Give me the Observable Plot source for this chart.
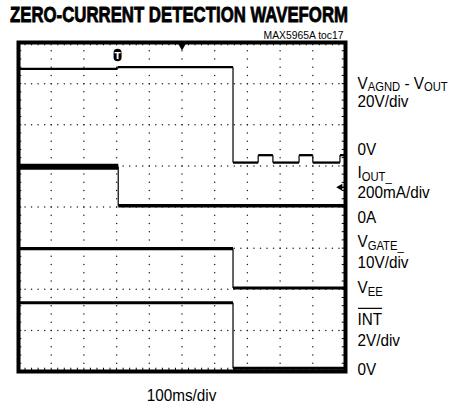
<!DOCTYPE html>
<html><head><meta charset="utf-8">
<script src="https://cdn.jsdelivr.net/npm/d3@7"></script>
<script src="https://cdn.jsdelivr.net/npm/@observablehq/plot@0.6"></script>
<style>
html,body{margin:0;padding:0;background:#fff;}
#chart{position:relative;width:449px;height:407px;}
</style></head><body><div id="chart"></div>
<script>
// Time in screen divisions (100ms/div); levels in screen divisions (+4 = top, -4 = bottom)
const vaTime   = [0, 3.03, 3.03, 6.56, 6.56, 7.33, 7.33, 7.78, 7.78, 8.58, 8.58, 9.0, 9.0, 9.83, 9.83, 10];
const vaLevel  = [3.36, 3.36, 3.4, 3.4, 1.08, 1.08, 1.26, 1.26, 1.08, 1.08, 1.26, 1.26, 1.08, 1.08, 1.26, 1.26];
const ioutTime  = [0, 3.05, 3.05, 10];
const ioutLevel = [0.98, 0.98, 0.03, 0.03];
const gateTime  = [0, 6.56, 6.56, 10];
const gateLevel = [-1.01, -1.01, -1.97, -1.97];
const intTime   = [0, 6.56, 6.56, 10];
const intLevel  = [-2.33, -2.33, -3.92, -3.92];

// Markers
const triggerTime = [3.03];
const centerTime = [5];
const triggerLevel = [0.48];

// Right-hand labels: parts [text, isSub], baseline level in divisions
const labelParts = [
  [["V",0],["AGND",1],[" - V",0],["OUT",1]],
  [["20V/div",0]],
  [["0V",0]],
  [["I",0],["OUT_",1]],
  [["200mA/div",0]],
  [["0A",0]],
  [["V",0],["GATE_",1]],
  [["10V/div",0]],
  [["V",0],["EE",1]],
  [["INT",0]],
  [["2V/div",0]],
  [["0V",0]]
];
const labelLevel = [2.86, 2.42, 1.25, 0.69, 0.2, -0.4, -0.99, -1.5, -2.11, -2.89, -3.4, -4.1];
const overlined = [false,false,false,false,false,false,false,false,false,true,false,false];

const titleText = "ZERO-CURRENT DETECTION WAVEFORM";
const tocText = "MAX5965A toc17";
const timebaseText = "100ms/div";

// Build traces
const traces = [
  {name:"va", t:vaTime, v:vaLevel},
  {name:"iout", t:ioutTime, v:ioutLevel},
  {name:"gate", t:gateTime, v:gateLevel},
  {name:"int", t:intTime, v:intLevel}
];
const thick = {va:2.3, iout:3.4, gate:3.2, int:3.0};
const hSegs = [], vSegs = [];
for (const tr of traces) {
  for (let i = 1; i < tr.t.length; i++) {
    const s = {name:tr.name, idx:i, x1:tr.t[i-1], x2:tr.t[i], y1:tr.v[i-1], y2:tr.v[i]};
    if (s.y1 === s.y2) hSegs.push(s); else vSegs.push(s);
  }
}

// Graticule
const minorX = d3.range(0, 10.0001, 0.2).map(d => +d.toFixed(2));
const minorY = d3.range(-4, 4.0001, 0.2).map(d => +d.toFixed(2));
const innerX = d3.range(1, 10);
const innerY = d3.range(-3, 4);
const gridDots = [
  ...innerY.flatMap(y => minorX.map(x => ({x, y}))),
  ...innerX.flatMap(x => minorY.map(y => ({x, y})))
];

const plot = Plot.plot({
  width: 449, height: 407,
  marginLeft: 18, marginRight: 104, marginTop: 42, marginBottom: 36,
  x: {domain: [0, 10], axis: null},
  y: {domain: [-4, 4], axis: null},
  style: {background: "#fff"},
  marks: [
    Plot.dot(gridDots, {x: "x", y: "y", r: 0.75, fill: "#222", stroke: "none"}),
    Plot.ruleX(minorX, {x: d => d, y1: 4, y2: 3.92, stroke: "#000", strokeWidth: 1}),
    Plot.ruleX(minorX, {x: d => d, y1: -4, y2: -3.92, stroke: "#000", strokeWidth: 1}),
    Plot.ruleY(minorY, {y: d => d, x1: 0, x2: 0.1, stroke: "#000", strokeWidth: 1}),
    Plot.ruleY(minorY, {y: d => d, x1: 10, x2: 9.9, stroke: "#000", strokeWidth: 1}),
    Plot.link(vSegs, {x1: "x1", x2: "x2", y1: "y1", y2: "y2", stroke: "#111", strokeWidth: 1.3}),
    Plot.link(hSegs, {x1: "x1", x2: "x2", y1: "y1", y2: "y2", stroke: "#000", strokeWidth: d => thick[d.name]}),
    Plot.link(hSegs.filter(d => d.name === "iout" && d.idx === 1), {x1: "x1", x2: "x2", y1: "y1", y2: "y2", stroke: "#000", strokeWidth: 6}),
    Plot.frame({stroke: "#000", strokeWidth: 4}),
    Plot.ruleX(triggerTime, {x: d => d, y1: 3.63, y2: 3.74, stroke: "#000", strokeWidth: 8, strokeLinecap: "round"}),
    Plot.text(triggerTime, {x: d => d, y: 3.68, text: () => "T", fill: "#fff", fontSize: 9, fontWeight: "bold", fontFamily: "DejaVu Sans"}),
    Plot.dot(centerTime, {x: d => d, y: 3.93, symbol: "triangle", r: 3.3, fill: "#000", stroke: "none", rotate: 180}),
    Plot.dot(triggerLevel, {x: 9.84, y: d => d, symbol: "triangle", r: 2.6, fill: "#000", stroke: "none", rotate: -90}),
    Plot.ruleY(triggerLevel, {y: d => d, x1: 9.84, x2: 10, stroke: "#000", strokeWidth: 1.5})
  ]
});
document.getElementById("chart").appendChild(plot);

const svg = d3.select(plot);
const xs = plot.scale("x"), ys = plot.scale("y");
const FONT = "'Liberation Sans', Arial, sans-serif";
const SX = 0.9;
const labelX = xs.apply(10) + 12.5;

function narrowText(x, y, size, anchor) {
  return svg.append("text")
    .attr("transform", `translate(${x},${y}) scale(${SX},1)`)
    .attr("text-anchor", anchor || "start")
    .attr("font-family", FONT).attr("font-size", size).attr("fill", "#000");
}

// Title
svg.append("text")
  .attr("x", 10).attr("y", 21.7).attr("text-anchor", "start")
  .attr("font-family", FONT).attr("font-weight", "bold").attr("font-size", 21.5)
  .attr("fill", "#000").attr("stroke", "#000").attr("stroke-width", 0.8)
  .attr("textLength", 338).attr("lengthAdjust", "spacingAndGlyphs")
  .text(titleText);

// toc text
narrowText(xs.apply(10) - 1.5, 38.5, 11.5, "end").text(tocText);

// Right-hand labels
labelParts.forEach((parts, i) => {
  const y = ys.apply(labelLevel[i]);
  const t = narrowText(labelX, y, 17);
  let prevSub = false;
  parts.forEach(([txt, sub]) => {
    const ts = t.append("tspan").text(txt);
    if (sub) { ts.attr("font-size", 12.5).attr("dy", prevSub ? 0 : 2.5); }
    else { ts.attr("dy", prevSub ? -2.5 : 0); }
    prevSub = !!sub;
  });
  if (overlined[i]) {
    const w = t.node().getComputedTextLength() * SX;
    svg.append("line").attr("x1", labelX + 0.5).attr("x2", labelX + w)
      .attr("y1", y - 17).attr("y2", y - 17)
      .attr("stroke", "#000").attr("stroke-width", 1.2);
  }
});

// Timebase label
narrowText(xs.apply(5), 401, 17, "middle").text(timebaseText);
</script>
</body></html>
